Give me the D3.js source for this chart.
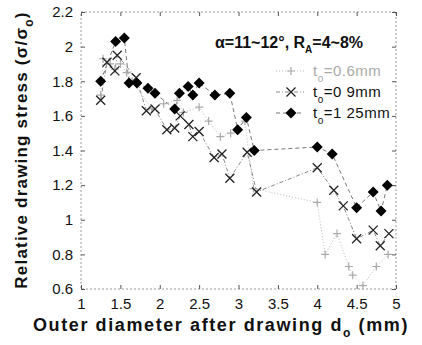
<!DOCTYPE html>
<meta charset="utf-8">
<style>
body { margin: 0; background: #fff; }
text { font-family: "Liberation Sans", Arial, sans-serif; fill: #111; }
.frame { fill: none; stroke: #999; stroke-dasharray: 2,2; }
.lbl { font-weight: bold; }
</style>
<svg id="chart" width="422" height="345"></svg>
<script src="https://d3js.org/d3.v7.min.js"></script>
<script>

// t = 0.6 mm
var x06 = [1.25, 1.28, 1.37, 1.43, 1.50, 1.58, 1.65, 1.90, 2.05, 2.22, 2.30, 2.50, 2.62, 2.77, 2.90, 3.08, 3.19, 4.00, 4.10, 4.25, 4.40, 4.45, 4.58, 4.75, 4.90];
var y06 = [1.72, 1.93, 1.90, 1.87, 1.90, 1.85, 1.80, 1.64, 1.67, 1.69, 1.62, 1.65, 1.57, 1.48, 1.50, 1.57, 1.18, 1.10, 0.80, 0.92, 0.73, 0.68, 0.62, 0.73, 0.80];
// t = 0.9 mm
var x09 = [1.25, 1.33, 1.43, 1.46, 1.70, 1.83, 1.94, 2.09, 2.19, 2.26, 2.37, 2.42, 2.50, 2.69, 2.79, 2.89, 3.11, 3.23, 4.00, 4.21, 4.33, 4.50, 4.71, 4.80, 4.91];
var y09 = [1.69, 1.91, 1.86, 1.95, 1.82, 1.63, 1.64, 1.52, 1.53, 1.60, 1.55, 1.48, 1.51, 1.36, 1.38, 1.24, 1.39, 1.16, 1.30, 1.17, 1.08, 0.89, 0.94, 0.85, 0.92];
// t = 1.25 mm
var x125 = [1.25, 1.44, 1.55, 1.61, 1.71, 1.85, 1.94, 2.19, 2.25, 2.36, 2.42, 2.50, 2.70, 2.89, 2.99, 3.10, 3.20, 4.00, 4.19, 4.50, 4.71, 4.81, 4.89];
var y125 = [1.80, 2.03, 2.05, 1.79, 1.79, 1.76, 1.73, 1.64, 1.73, 1.77, 1.72, 1.79, 1.72, 1.73, 1.52, 1.59, 1.40, 1.42, 1.38, 1.07, 1.16, 1.05, 1.20];

var xTicks = [1, 1.5, 2, 2.5, 3, 3.5, 4, 4.5, 5];
var yTicks = [0.6, 0.8, 1, 1.2, 1.4, 1.6, 1.8, 2, 2.2];

var pLeft = 81, pRight = 396, pTop = 12, pBottom = 289;

var svg = d3.select("#chart");

var x = d3.scaleLinear().domain([1, 5]).range([pLeft, pRight]);
var y = d3.scaleLinear().domain([0.6, 2.2]).range([pBottom, pTop]);

svg.append("rect")
    .attr("class", "frame")
    .attr("x", pLeft).attr("y", pTop)
    .attr("width", pRight - pLeft).attr("height", pBottom - pTop);

function fmt(d) { return String(d); }

svg.append("g")
    .attr("transform", "translate(0," + pBottom + ")")
    .call(d3.axisBottom(x).tickValues(xTicks).tickFormat(fmt).tickSizeInner(-4).tickSizeOuter(0).tickPadding(9))
    .call(function(g) { g.select(".domain").remove(); });

svg.append("g")
    .attr("transform", "translate(0," + pTop + ")")
    .call(d3.axisTop(x).tickValues(xTicks).tickFormat("").tickSizeInner(-4).tickSizeOuter(0))
    .call(function(g) { g.select(".domain").remove(); });

svg.append("g")
    .attr("transform", "translate(" + pLeft + ",0)")
    .call(d3.axisLeft(y).tickValues(yTicks).tickFormat(fmt).tickSizeInner(-4).tickSizeOuter(0).tickPadding(8))
    .call(function(g) { g.select(".domain").remove(); });

svg.append("g")
    .attr("transform", "translate(" + pRight + ",0)")
    .call(d3.axisRight(y).tickValues(yTicks).tickFormat("").tickSizeInner(-4).tickSizeOuter(0))
    .call(function(g) { g.select(".domain").remove(); });

svg.selectAll(".tick line").attr("stroke", "#555");
svg.selectAll(".tick text").style("font-size", "15px").style("font-family", "'Liberation Sans', Arial, sans-serif").attr("fill", "#111");

var line = d3.line().x(function(d) { return x(d[0]); }).y(function(d) { return y(d[1]); });

function pts(xs, ys) { return xs.map(function(v, i) { return [v, ys[i]]; }); }

var s06 = pts(x06, y06), s09 = pts(x09, y09), s125 = pts(x125, y125);

svg.append("path").datum(s06).attr("d", line)
    .attr("fill", "none").attr("stroke", "#bbb").attr("stroke-width", 1).attr("stroke-dasharray", "1,2");
svg.append("path").datum(s09).attr("d", line)
    .attr("fill", "none").attr("stroke", "#888").attr("stroke-width", 1).attr("stroke-dasharray", "4,2,1,2");
svg.append("path").datum(s125).attr("d", line)
    .attr("fill", "none").attr("stroke", "#777").attr("stroke-width", 1).attr("stroke-dasharray", "4,3");

function plus(g, cx, cy) {
  g.append("path").attr("d", "M" + (cx - 4) + "," + cy + "h8M" + cx + "," + (cy - 4) + "v8")
    .attr("stroke", "#aaa").attr("stroke-width", 1.2).attr("fill", "none");
}
function cross(g, cx, cy) {
  g.append("path").attr("d", "M" + (cx - 4.5) + "," + (cy - 4.5) + "l9,9M" + (cx - 4.5) + "," + (cy + 4.5) + "l9,-9")
    .attr("stroke", "#222").attr("stroke-width", 1.3).attr("fill", "none");
}
function diamond(g, cx, cy) {
  g.append("path").attr("d", "M" + cx + "," + (cy - 5.5) + "l5.5,5.5l-5.5,5.5l-5.5,-5.5z")
    .attr("fill", "#000");
}

var gm = svg.append("g");
s06.forEach(function(d) { plus(gm, x(d[0]), y(d[1])); });
s09.forEach(function(d) { cross(gm, x(d[0]), y(d[1])); });
s125.forEach(function(d) { diamond(gm, x(d[0]), y(d[1])); });

// annotation
svg.append("text").attr("class", "lbl").attr("x", 215).attr("y", 48)
    .style("font-size", "16px")
    .html('α=11~12°, R<tspan dy="5" style="font-size:10px">A</tspan><tspan dy="-5">=4~8%</tspan>');

// legend
var legend = [
  { name: "0.6mm", draw: plus, stroke: "#bbb", dash: "1,2", color: "#aaa" },
  { name: "0 9mm", draw: cross, stroke: "#888", dash: "4,2,1,2", color: "#111" },
  { name: "1 25mm", draw: diamond, stroke: "#777", dash: "4,3", color: "#111" }
];
legend.forEach(function(d, i) {
  var ly = 71 + i * 21;
  svg.append("line").attr("x1", 276).attr("x2", 304).attr("y1", ly).attr("y2", ly)
      .attr("stroke", d.stroke).attr("stroke-dasharray", d.dash);
  d.draw(svg, 291, ly);
  var t = svg.append("text").attr("x", 313).attr("y", ly + 5)
      .style("font-size", "15px").style("letter-spacing", "0.5px");
  t.append("tspan").attr("fill", d.color).text("t");
  t.append("tspan").attr("fill", d.color).attr("dy", 6).style("font-size", "10px").text("o");
  t.append("tspan").attr("fill", d.color).attr("dy", -6).text("=" + d.name);
});

// axis titles
svg.append("text").attr("class", "lbl").attr("x", 221).attr("y", 331)
    .attr("text-anchor", "middle").style("font-size", "18px").style("letter-spacing", "1.6px")
    .html('Outer diameter after drawing d<tspan dy="6" style="font-size:12px">o</tspan><tspan dy="-6"> (mm)</tspan>');

svg.append("text").attr("class", "lbl")
    .attr("transform", "translate(27,150) rotate(-90)")
    .attr("text-anchor", "middle").style("font-size", "17px").style("letter-spacing", "1.2px")
    .html('Relative drawing stress (σ/σ<tspan dy="6" style="font-size:12px">o</tspan><tspan dy="-6">)</tspan>');

</script>
